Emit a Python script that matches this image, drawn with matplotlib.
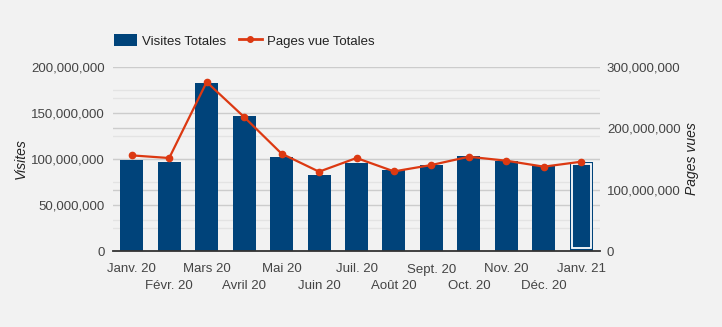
import numpy as np
import matplotlib
matplotlib.use('Agg')
import matplotlib.pyplot as plt
from matplotlib.ticker import FuncFormatter, MultipleLocator, FixedLocator, FixedFormatter
from matplotlib.lines import Line2D
from matplotlib.patches import Patch

#data
months = ["Janv. 20", "Févr. 20", "Mars 20", "Avril 20", "Mai 20", "Juin 20", "Juil. 20",
          "Août 20", "Sept. 20", "Oct. 20", "Nov. 20", "Déc. 20", "Janv. 21"]
visites = [99.2e6, 97.1e6, 183e6, 147e6, 102.5e6, 83e6, 96e6,
           88.4e6, 93e6, 103.6e6, 97.8e6, 92e6, 97e6]
pages_vues = [155.9e6, 151.6e6, 275.5e6, 218.5e6, 158.7e6, 129.3e6, 151.6e6,
              129.8e6, 140.2e6, 153.7e6, 147.2e6, 137.5e6, 145.6e6]

bar_color = '#00437a'
line_color = '#dc3912'
bg = '#f2f2f2'
txt = '#444444'

plt.rcParams['font.family'] = ['Liberation Sans', 'DejaVu Sans']

fig = plt.figure(figsize=(7.22, 3.27), dpi=100, facecolor=bg)
ax = fig.add_axes([113/722, 1 - 251/327, 487/722, 184/327])
ax.set_facecolor(bg)
ax2 = ax.twinx()

x = np.arange(len(months))
bw = 0.615
ax.bar(x, visites, width=bw, color=bar_color, zorder=3)

#highlighted last bar (white inner border)
last = len(months) - 1
ax.bar(x[last], visites[last] - 5.5e6, bottom=3.2e6, width=bw - 0.11,
       fill=False, edgecolor='white', linewidth=1.3, zorder=4)

ax.set_xlim(-0.5, len(months) - 0.5)
ax.set_ylim(0, 200e6)
ax2.set_ylim(0, 300e6)

#gridlines, both axes
for v in np.arange(25e6, 200e6, 50e6):
    ax.axhline(v, color='#e3e3e3', lw=1, zorder=0)
for v in np.arange(50e6, 300e6, 100e6):
    ax.axhline(v * 200 / 300, color='#e3e3e3', lw=1, zorder=0)
for v in np.arange(50e6, 201e6, 50e6):
    ax.axhline(v, color='#cccccc', lw=1, zorder=1)
for v in (100e6, 200e6):
    ax.axhline(v * 200 / 300, color='#cccccc', lw=1, zorder=1)

ax2.plot(x, pages_vues, color=line_color, lw=1.6, marker='o', markersize=4.5, zorder=5)
ax.set_zorder(ax2.get_zorder() - 1)
ax.patch.set_visible(True)
ax2.patch.set_visible(False)

fmt = FuncFormatter(lambda v, p: f"{int(v):,}")
ax.yaxis.set_major_locator(MultipleLocator(50e6))
ax2.yaxis.set_major_locator(MultipleLocator(100e6))
ax.yaxis.set_major_formatter(fmt)
ax2.yaxis.set_major_formatter(fmt)

#two staggered rows of month labels
ax.xaxis.set_major_locator(FixedLocator(x[::2]))
ax.xaxis.set_major_formatter(FixedFormatter(months[::2]))
ax.xaxis.set_minor_locator(FixedLocator(x[1::2]))
ax.xaxis.set_minor_formatter(FixedFormatter(months[1::2]))

for a in (ax, ax2):
    for s in a.spines.values():
        s.set_visible(False)
    a.tick_params(which='both', length=0, labelsize=9.5, labelcolor=txt)
ax.tick_params(axis='y', pad=6)
ax2.tick_params(axis='y', pad=5)
ax.tick_params(axis='x', which='major', pad=9)
ax.tick_params(axis='x', which='minor', pad=21)
ax.spines['bottom'].set_visible(True)
ax.spines['bottom'].set_color('#333333')
ax.spines['bottom'].set_linewidth(1.3)
ax.spines['bottom'].set_zorder(6)

ax.set_ylabel("Visites", fontsize=10, style='italic', color='#222222', labelpad=2)
ax2.set_ylabel("Pages vues", fontsize=10, style='italic', color='#222222', labelpad=3)

handles = [Patch(facecolor=bar_color, edgecolor='none'),
           Line2D([0], [0], color=line_color, lw=2, marker='o', markersize=4)]
fig.legend(handles, ["Visites Totales", "Pages vue Totales"], loc='center left',
           bbox_to_anchor=(102/722, 1 - 41/327), ncol=2, frameon=False, fontsize=9.5,
           labelcolor='#222222', handlelength=1.75, handleheight=1.0, columnspacing=1.0,
           handletextpad=0.35)

fig.savefig('out.png', dpi=100, facecolor=bg)
